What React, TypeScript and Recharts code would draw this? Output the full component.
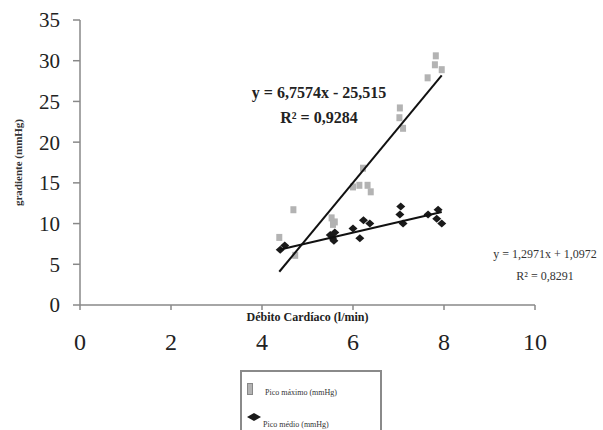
import { Legend, Scatter, ScatterChart, XAxis, YAxis } from "recharts"

// pico máximo (gray squares)
const maxX = [7.82, 7.8, 7.95, 7.64, 7.03, 7.02, 7.1, 6.22, 6.0, 6.14, 6.32, 6.39, 4.69, 5.53, 5.6, 5.56, 4.38, 4.73]
const maxY = [30.6, 29.5, 28.9, 27.9, 24.2, 23.0, 21.7, 16.8, 14.5, 14.7, 14.7, 13.9, 11.7, 10.7, 10.2, 9.9, 8.3, 6.1]
// pico médio (dark diamonds)
const medX = [4.4, 4.5, 5.5, 5.55, 5.6, 5.58, 6.0, 6.15, 6.23, 6.37, 7.05, 7.03, 7.1, 7.65, 7.87, 7.95, 7.84]
const medY = [6.8, 7.3, 8.6, 8.2, 8.9, 7.9, 9.4, 8.2, 10.4, 10.0, 12.1, 11.1, 10.0, 11.1, 11.7, 10.0, 10.6]

// linear trend coefficients (from the chart)
const maxFit = { a: 6.7574, b: -25.515, r2: 0.9284 }
const medFit = { a: 1.2971, b: 1.0972, r2: 0.8291 }

const xTicks = [0, 2, 4, 6, 8, 10]
const yTicks = [0, 5, 10, 15, 20, 25, 30, 35]
const names = ["Pico máximo (mmHg)", "Pico médio (mmHg)"]

const serif = "'Liberation Serif', 'Times New Roman', serif"

const toPts = (xs: number[], ys: number[]) => xs.map((x, i) => ({ x, y: ys[i] }))
const fitPts = (xs: number[], f: { a: number; b: number }) => {
  const lo = Math.min(...xs), hi = Math.max(...xs)
  return [lo, hi].map(x => ({ x, y: f.a * x + f.b }))
}
const fmt = (n: number) => n.toString().replace(".", ",")
const eq = (f: { a: number; b: number }) =>
  `y = ${fmt(f.a)}x ${f.b < 0 ? "-" : "+"} ${fmt(Math.abs(f.b))}`

const maxData = toPts(maxX, maxY)
const medData = toPts(medX, medY)

const Square = (p: any) => <rect x={p.cx - 3} y={p.cy - 3.5} width={6} height={7} fill="#b3b3b3" />
const Diamond = (p: any) => (
  <polygon points={`${p.cx},${p.cy - 4} ${p.cx + 4.5},${p.cy} ${p.cx},${p.cy + 4} ${p.cx - 4.5},${p.cy}`} fill="#1a1a1a" />
)
const NoDot = () => <g />

const LegendBox = () => (
  <div style={{ position: "relative", width: 142, height: 70, border: "2px solid #8a8a8a", boxSizing: "border-box", background: "#fff", fontFamily: serif, fontSize: 8, color: "#333" }}>
    <div style={{ position: "absolute", left: 5, top: 11, width: 6, height: 12, background: "#b3b3b3", border: "1px solid #888", boxSizing: "border-box" }} />
    <div style={{ position: "absolute", left: 23, top: 16 }}>{names[0]}</div>
    <svg style={{ position: "absolute", left: 5, top: 41 }} width={14} height={8}>
      <polygon points="7,0 14,4 7,8 0,4" fill="#1a1a1a" />
    </svg>
    <div style={{ position: "absolute", left: 21, top: 48 }}>{names[1]}</div>
  </div>
)

export default function App() {
  return (
    <div style={{ position: "absolute", left: 0, top: 0, width: 603, height: 430, background: "#fff", overflow: "hidden" }}>
      <ScatterChart width={603} height={430} margin={{ top: 20, right: 68, bottom: 65, left: 0 }}>
        <XAxis
          type="number" dataKey="x" domain={[0, 10]} ticks={xTicks} allowDataOverflow
          stroke="#888" strokeWidth={1.5} tickSize={5} tickMargin={23}
          tick={{ fontSize: 24, fill: "#222", fontFamily: serif }}
          height={60}
          label={{ value: "Débito Cardíaco (l/min)", position: "insideTop", offset: 7, style: { fontSize: 12, fontWeight: "bold", fontFamily: serif, fill: "#222" } }}
        />
        <YAxis
          type="number" dataKey="y" domain={[0, 35]} ticks={yTicks} allowDataOverflow
          stroke="#888" strokeWidth={1.5} tickSize={7} tickMargin={13} width={80}
          tick={{ fontSize: 21, fill: "#222", fontFamily: serif }}
          label={{ value: "gradiente (mmHg)", angle: -90, position: "insideLeft", offset: 18, style: { fontSize: 11, fontWeight: "bold", fontFamily: serif, fill: "#333", textAnchor: "middle" } }}
        />
        <Scatter name={names[0]} data={maxData} shape={Square} isAnimationActive={false} />
        <Scatter name={names[1]} data={medData} shape={Diamond} isAnimationActive={false} />
        <Scatter data={fitPts(maxX, maxFit)} shape={NoDot} line={{ stroke: "#111", strokeWidth: 2 }} legendType="none" isAnimationActive={false} />
        <Scatter data={fitPts(medX, medFit)} shape={NoDot} line={{ stroke: "#111", strokeWidth: 2 }} legendType="none" isAnimationActive={false} />
        <Legend layout="horizontal" verticalAlign="middle" content={LegendBox} wrapperStyle={{ left: 240, top: 370, width: 142 }} />
      </ScatterChart>
      <div style={{ position: "absolute", left: 219, width: 200, top: 80, textAlign: "center", fontFamily: serif, fontSize: 16, fontWeight: "bold", color: "#222", lineHeight: "25px" }}>
        <div>{eq(maxFit)}</div>
        <div>R² = {fmt(maxFit.r2)}</div>
      </div>
      <div style={{ position: "absolute", left: 480, width: 130, top: 243, textAlign: "center", fontFamily: serif, fontSize: 12, color: "#333", lineHeight: "22px" }}>
        <div>{eq(medFit)}</div>
        <div>R² = {fmt(medFit.r2)}</div>
      </div>
    </div>
  )
}
